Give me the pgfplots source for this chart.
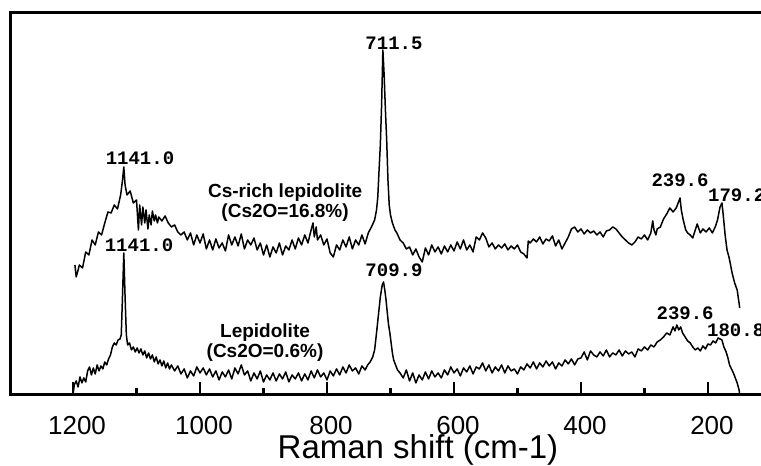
\documentclass[border=0pt]{standalone}
\usepackage{pgfplots}
\pgfplotsset{compat=1.18}
\usepackage{fontspec}
\setmainfont{Liberation Sans}
\newfontfamily\monob{Liberation Mono Bold}
\begin{document}
\begin{tikzpicture}
\begin{axis}[
  scale only axis, width=754.7pt, height=382.5pt,
  x dir=reverse, xmin=110, xmax=1298.4, ymin=0, ymax=382.5,
  clip=false,
  axis line style={line width=3pt},
  ytick=\empty,
  xtick={200,400,600,800,1000,1200},
  minor xtick={300,500,700,900,1100},
  tick pos=left, tick align=inside,
  major tick length=13pt, minor tick length=6.5pt,
  every tick/.style={black, line width=2.5pt},
  xticklabel style={font=\fontsize{26}{30}\selectfont, anchor=north, inner sep=0pt, yshift=-21pt, xshift=4pt},
  /pgf/number format/assume math mode=true,
  /pgf/number format/1000 sep={},
]
% Cs-rich lepidolite
\addplot[black, line width=1.5pt, line join=round] table {
x y
1197 130
1195 118
1192 125
1190 130
1185 127
1180 143
1175 140
1170 155
1165 150
1160 163
1155 160
1150 172
1145 183
1140 182
1135 190
1130 186
1125 200
1122 215
1120 228
1118 210
1115 200
1110 204
1105 192
1100 195
1097 165
1095 190
1092 170
1090 188
1087 172
1085 185
1082 166
1080 180
1077 170
1075 184
1072 174
1070 180
1067 172
1065 178
1060 174
1055 179
1050 172
1045 168
1040 170
1035 163
1030 160
1025 163
1020 155
1015 162
1010 150
1005 160
1000 152
995 161
990 146
985 155
980 145
975 156
970 147
965 152
960 144
955 160
950 150
945 158
940 149
935 161
930 146
925 155
920 150
915 157
910 145
905 152
900 140
895 150
890 138
885 148
880 142
875 152
870 140
865 149
860 145
855 155
850 146
845 157
840 150
835 160
830 152
825 165
822 172
820 158
817 168
815 155
810 160
805 150
800 156
795 142
790 138
785 150
780 145
775 155
770 148
765 158
760 146
755 155
750 150
745 160
740 151
735 162
730 168
725 175
722 185
720 198
718 225
716 250
714 290
712 345
710 320
708 285
706 255
704 215
702 190
700 180
697 172
693 165
690 162
685 155
680 152
675 146
670 148
665 140
660 146
655 138
650 133
645 147
640 140
635 150
630 143
625 148
620 141
615 149
610 143
605 150
600 144
595 153
590 146
585 155
580 145
575 150
570 143
565 158
560 155
555 162
550 157
545 148
540 152
535 146
530 150
525 147
520 151
515 145
510 149
505 146
500 150
495 143
490 141
485 137
483 154
480 152
475 156
470 153
465 158
460 151
455 156
450 154
445 159
440 149
435 155
430 146
425 152
420 158
415 166
410 168
405 163
400 166
395 161
390 165
385 162
380 164
375 160
370 163
365 158
360 164
355 165
350 168
345 166
340 162
335 158
330 155
325 152
320 150
315 153
310 158
305 156
300 160
295 155
290 162
287 174
285 165
282 160
280 166
275 168
270 176
265 181
260 187
255 183
250 187
247 192
244 197
242 185
239 175
235 165
232 162
228 160
224 157
220 165
217 171
212 162
208 166
203 163
198 167
193 162
188 169
185 175
181 188
178 192
176 180
173 160
170 145
167 138
165 132
162 122
158 112
154 105
150 87
};
% Lepidolite
\addplot[black, line width=1.5pt, line join=round] table {
x y
1200 0
1198 10
1195 14
1192 8
1189 18
1186 12
1183 17
1180 13
1177 24
1174 28
1171 20
1168 27
1165 21
1162 30
1159 24
1156 29
1153 26
1150 33
1147 30
1144 36
1141 40
1138 48
1135 52
1132 50
1129 55
1126 56
1124 60
1122 100
1120 142
1118 98
1116 60
1114 50
1111 52
1108 45
1105 48
1102 43
1099 47
1096 42
1093 46
1090 40
1087 44
1084 37
1081 42
1078 36
1075 40
1072 33
1069 38
1066 31
1063 35
1060 29
1057 34
1054 27
1051 32
1048 26
1045 30
1040 24
1035 29
1030 21
1025 26
1020 17
1015 24
1010 19
1005 28
1000 22
995 27
990 20
985 26
980 18
975 24
970 15
965 23
960 18
955 25
950 16
945 27
940 21
935 30
930 20
925 24
920 14
915 22
910 16
905 24
900 13
895 20
890 15
885 22
880 14
875 21
870 16
865 23
860 13
855 20
850 16
845 22
840 14
835 21
830 15
825 24
820 17
815 25
810 18
805 22
800 15
795 24
790 19
785 26
780 20
775 28
770 22
765 30
760 24
755 27
750 21
745 29
740 25
736 30
732 33
728 38
725 45
722 62
719 80
716 98
713 110
711 113
709 105
707 95
705 82
703 70
701 62
699 52
697 42
695 35
692 30
689 25
685 22
680 17
675 25
670 14
665 22
660 12
655 20
650 15
645 23
640 16
635 24
630 18
625 22
620 17
615 25
610 20
605 28
600 22
595 26
590 19
585 27
580 23
575 29
570 21
565 28
560 26
555 32
550 24
545 30
540 22
535 28
530 24
525 30
520 22
515 29
510 24
505 26
500 21
495 28
490 25
485 31
480 27
475 33
470 26
465 32
460 28
455 34
450 29
445 33
440 26
435 32
430 29
425 35
420 31
415 36
410 30
405 36
400 37
395 43
390 35
385 44
380 40
375 38
370 43
365 39
360 45
355 38
350 42
345 40
340 45
335 39
330 44
325 41
320 43
315 38
310 46
305 44
300 48
295 45
290 50
285 48
280 53
275 55
270 58
265 62
260 60
255 68
252 64
249 70
246 65
243 68
240 62
236 58
232 54
228 52
224 48
220 45
216 47
212 44
208 49
204 46
200 51
196 50
192 54
188 52
184 57
181 56
178 55
175 48
172 44
169 38
166 30
163 26
160 22
157 17
154 12
151 5
150 0
};
\node[font={\fontsize{19}{22}\selectfont\monob}, inner sep=0pt] at (axis cs:694.5,352) {711.5};
\node[font={\fontsize{19}{22}\selectfont\monob}, inner sep=0pt] at (axis cs:1094.5,237) {1141.0};
\node[font={\fontsize{19}{22}\selectfont\monob}, inner sep=0pt] at (axis cs:1096,150) {1141.0};
\node[font={\fontsize{19}{22}\selectfont\monob}, inner sep=0pt] at (axis cs:694.5,125) {709.9};
\node[font={\fontsize{19}{22}\selectfont\monob}, inner sep=0pt] at (axis cs:244,215) {239.6};
\node[font={\fontsize{19}{22}\selectfont\monob}, inner sep=0pt, anchor=west] at (axis cs:200,200) {179.2};
\node[font={\fontsize{19}{22}\selectfont\monob}, inner sep=0pt] at (axis cs:236,82) {239.6};
\node[font={\fontsize{19}{22}\selectfont\monob}, inner sep=0pt, anchor=west] at (axis cs:201.6,65) {180.8};
\node[font=\bfseries\fontsize{19}{20}\selectfont, align=center, inner sep=0pt] at (axis cs:866,192.5) {Cs-rich lepidolite\\(Cs2O=16.8\%)};
\node[font=\bfseries\fontsize{19}{20}\selectfont, align=center, inner sep=0pt] at (axis cs:897.6,52.5) {Lepidolite\\(Cs2O=0.6\%)};
\node[font=\fontsize{33}{36}\selectfont, inner sep=0pt, anchor=base] at (axis cs:656.7,-64) {Raman shift (cm-1)};
\coordinate (bbsw) at (axis cs:1315,-71);
\coordinate (bbne) at (axis cs:116.5,395);
\end{axis}
\pgfresetboundingbox
\useasboundingbox (bbsw) rectangle (bbne);
\end{tikzpicture}
\end{document}
